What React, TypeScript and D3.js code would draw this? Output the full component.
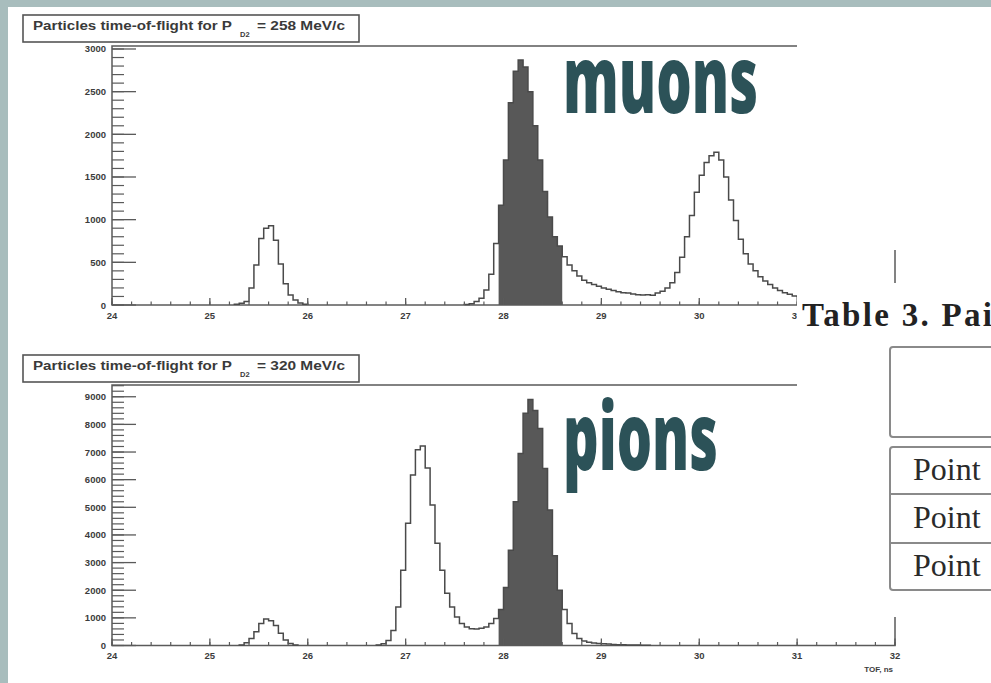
import React from 'react';
import * as d3 from 'd3';

// Time-of-flight histograms (counts per 0.05 ns bin)
const BIN = 0.05;

// P_D2 = 258 MeV/c
const electrons258Start = 25.25;
const electrons258 = [10, 20, 40, 200, 470, 780, 900, 930, 760, 480, 250, 117, 59, 23, 8];
const muonsPions258Start = 27.6;
const muonsPions258 = [
  5, 15, 40, 80, 175, 360, 720,
  1170, 1700, 2370, 2740, 2870, 2790, 2500, 2100, 1700, 1330, 1030, 800, 690,
  566, 470, 400, 340, 290, 260, 240, 220, 200, 185, 170, 155, 145, 140, 130, 120, 118, 120, 115, 140,
  160, 200, 260, 380, 560, 800, 1050, 1320, 1520, 1670, 1750, 1790, 1700, 1500, 1230, 990, 770, 600,
  480, 400, 330, 280, 240, 200, 170, 145, 125, 105, 95,
];
const cut258 = [27.95, 28.6];

// P_D2 = 320 MeV/c
const electrons320Start = 25.3;
const electrons320 = [20, 100, 250, 500, 800, 960, 900, 720, 440, 200, 70, 20];
const muonsPions320Start = 26.7;
const muonsPions320 = [
  20, 60, 180, 545, 1390, 2720, 4420, 6170, 7080, 7220, 6420, 5080, 3700, 2720, 1890, 1390, 1030, 800,
  665, 610, 600, 620, 665, 800, 980,
  1300, 2100, 3450, 5200, 6950, 8400, 8900, 8500, 7850, 6400, 4900, 3250, 2000,
  1300, 800, 430, 250, 160, 120, 90, 70, 60, 50, 40, 30, 25, 20, 18, 15, 12, 10,
];
const cut320 = [27.95, 28.6];

const tofTicks = [24, 25, 26, 27, 28, 29, 30, 31, 32];
const countTicks258 = [0, 500, 1000, 1500, 2000, 2500, 3000];
const countTicks320 = [0, 1000, 2000, 3000, 4000, 5000, 6000, 7000, 8000, 9000];

const title258 = ['Particles time-of-flight for P', 'D2', '= 258 MeV/c'];
const title320 = ['Particles time-of-flight for P', 'D2', '= 320 MeV/c'];
const tableRows = ['Point', 'Point', 'Point'];

const W = 991;
const H = 683;
const X0 = 112;
const X1 = 895;
const SANS = 'Liberation Sans, Arial, sans-serif';
const SERIF = 'Liberation Serif, Times New Roman, serif';

type Bin = { x0: number; x1: number; n: number };

function toBins(start: number, counts: number[]): Bin[] {
  return counts.map((n, i) => ({
    x0: +(start + i * BIN).toFixed(3),
    x1: +(start + (i + 1) * BIN).toFixed(3),
    n,
  }));
}

function stepPoints(bins: Bin[]): [number, number][] {
  const pts: [number, number][] = [[bins[0].x0, 0]];
  bins.forEach((b) => {
    pts.push([b.x0, b.n]);
    pts.push([b.x1, b.n]);
  });
  pts.push([bins[bins.length - 1].x1, 0]);
  return pts;
}

type PanelProps = {
  top: number;
  bottom: number;
  yMax: number;
  majors: number[];
  minorStep: number;
  segments: Bin[][];
  cut: number[];
  title: string[];
  titleTop: number;
  xLabelsVisible: number[];
  axisTitle?: string;
};

function Panel(p: PanelProps) {
  const x = d3.scaleLinear().domain([24, 32]).range([X0, X1]);
  const y = d3.scaleLinear().domain([0, p.yMax]).range([p.bottom, p.top]);
  const line = d3
    .line<[number, number]>()
    .x((d) => x(d[0]))
    .y((d) => y(d[1]));
  const area = d3
    .area<[number, number]>()
    .x((d) => x(d[0]))
    .y0(y(0))
    .y1((d) => y(d[1]));

  const allBins = p.segments.flat();
  const shaded = allBins.filter((b) => b.x0 >= p.cut[0] - 1e-6 && b.x1 <= p.cut[1] + 1e-6);
  const shadedPts: [number, number][] = [];
  shaded.forEach((b) => {
    shadedPts.push([b.x0, b.n]);
    shadedPts.push([b.x1, b.n]);
  });

  const xMinor = d3.range(24, 32.0001, 0.2).map((v) => +v.toFixed(2));
  const yMinor = d3.range(0, p.yMax, p.minorStep);
  const majorLenY = 24;
  const minorLenY = 12;
  const frame = '#5a5a5a';

  return (
    <g>
      {/* frame */}
      <rect x={X0} y={p.top} width={X1 - X0} height={p.bottom - p.top} fill="none" stroke={frame} strokeWidth={1.5} />
      {/* shaded window */}
      <path d={area(shadedPts) || ''} fill="#585858" />
      {/* histogram outline */}
      {p.segments.map((seg, i) => (
        <path key={i} d={line(stepPoints(seg)) || ''} fill="none" stroke="#4a4a4a" strokeWidth={1.5} />
      ))}
      {/* y axis ticks */}
      {yMinor.map((v) => (
        <line key={'ym' + v} x1={X0} x2={X0 + minorLenY} y1={y(v)} y2={y(v)} stroke={frame} strokeWidth={1.2} />
      ))}
      {p.majors.map((v) => (
        <g key={'yM' + v}>
          <line x1={X0} x2={X0 + majorLenY} y1={y(v)} y2={y(v)} stroke={frame} strokeWidth={1.3} />
          <text x={106} y={y(v) + 3.5} textAnchor="end" fontSize={9.5} fontWeight={700} fill="#3c3c3c" fontFamily={SANS}>
            {v}
          </text>
        </g>
      ))}
      {/* x axis ticks */}
      {xMinor.map((v) => (
        <line key={'xm' + v} x1={x(v)} x2={x(v)} y1={p.bottom} y2={p.bottom - 3.5} stroke={frame} strokeWidth={1.2} />
      ))}
      {tofTicks.map((v) => (
        <line key={'xM' + v} x1={x(v)} x2={x(v)} y1={p.bottom} y2={p.bottom - 7} stroke={frame} strokeWidth={1.3} />
      ))}
      {p.xLabelsVisible.map((v) => (
        <text key={'xl' + v} x={x(v)} y={p.bottom + 13.5} textAnchor="middle" fontSize={9.5} fontWeight={700} fill="#3c3c3c" fontFamily={SANS}>
          {v}
        </text>
      ))}
      {p.axisTitle && (
        <text x={893} y={p.bottom + 26} textAnchor="end" fontSize={8} fontWeight={700} fill="#3c3c3c" fontFamily={SANS}>
          {p.axisTitle}
        </text>
      )}
      {/* title box */}
      <rect x={23} y={p.titleTop} width={336} height={27} fill="#fff" stroke="#555" strokeWidth={1.6} />
      <text x={33} y={p.titleTop + 15} fontSize={13} fontWeight={700} fill="#3a3a3a" fontFamily={SANS} textLength={199} lengthAdjust="spacingAndGlyphs">
        {p.title[0]}
      </text>
      <text x={240} y={p.titleTop + 22} fontSize={7.5} fontWeight={700} fill="#3a3a3a" fontFamily={SANS}>
        {p.title[1]}
      </text>
      <text x={257} y={p.titleTop + 15} fontSize={13} fontWeight={700} fill="#3a3a3a" fontFamily={SANS} textLength={88} lengthAdjust="spacingAndGlyphs">
        {p.title[2]}
      </text>
    </g>
  );
}

export default function App() {
  const segs258 = [toBins(electrons258Start, electrons258), toBins(muonsPions258Start, muonsPions258)];
  const segs320 = [toBins(electrons320Start, electrons320), toBins(muonsPions320Start, muonsPions320)];

  return (
    <svg width={W} height={H} viewBox={`0 0 ${W} ${H}`} style={{ position: 'absolute', left: 0, top: 0, display: 'block' }}>
      <rect x={0} y={0} width={W} height={H} fill="#a8bdbd" />
      <rect x={8} y={7} width={W - 8} height={H - 7} fill="#ffffff" />

      <Panel
        top={46}
        bottom={305}
        yMax={3035}
        majors={countTicks258}
        minorStep={100}
        segments={segs258}
        cut={cut258}
        title={title258}
        titleTop={15}
        xLabelsVisible={tofTicks.slice(0, 8)}
      />
      <Panel
        top={385}
        bottom={645.5}
        yMax={9425}
        majors={countTicks320}
        minorStep={200}
        segments={segs320}
        cut={cut320}
        title={title320}
        titleTop={355}
        xLabelsVisible={tofTicks}
        axisTitle="TOF, ns"
      />

      {/* table page laid over the right side */}
      <rect x={797} y={20} width={W - 797} height={230} fill="#fff" />
      <rect x={797} y={283} width={W - 797} height={334} fill="#fff" />
      <text x={802} y={326} fontSize={33} fontWeight={700} fill="#222" fontFamily={SERIF} textLength={190} lengthAdjust="spacing">
        Table 3. Pai
      </text>
      <rect x={890} y={347} width={120} height={90} rx={3} fill="#fff" stroke="#8a8a8a" strokeWidth={2} />
      <rect x={890} y={447} width={120} height={143} rx={3} fill="#fff" stroke="#8a8a8a" strokeWidth={2} />
      <line x1={890} x2={W} y1={494} y2={494} stroke="#8a8a8a" strokeWidth={2} />
      <line x1={890} x2={W} y1={543} y2={543} stroke="#8a8a8a" strokeWidth={2} />
      {tableRows.map((t, i) => (
        <text key={i} x={913} y={480 + i * 48} fontSize={32} fill="#2a2a2a" fontFamily={SERIF}>
          {t}
        </text>
      ))}

      {/* particle labels */}
      <text x={563} y={113} fontSize={94} fontWeight={800} fill="#2c5258" fontFamily="Open Sans, sans-serif" textLength={195} lengthAdjust="spacingAndGlyphs">
        muons
      </text>
      <text x={563} y={470} fontSize={94} fontWeight={800} fill="#2c5258" fontFamily="Open Sans, sans-serif" textLength={155} lengthAdjust="spacingAndGlyphs">
        pions
      </text>
    </svg>
  );
}
